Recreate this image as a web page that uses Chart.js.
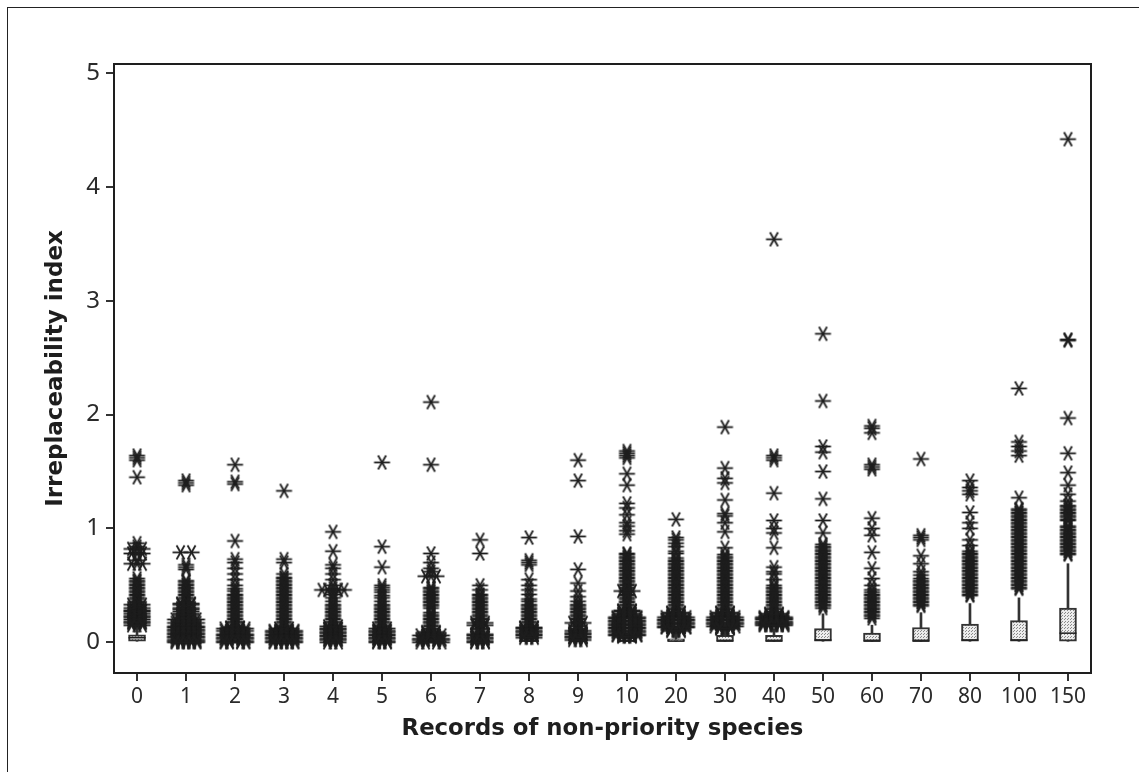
<!DOCTYPE html>
<html>
<head>
<meta charset="utf-8">
<title>Irreplaceability index</title>
<script src="https://cdn.jsdelivr.net/npm/chart.js@4"></script>
<style>
    body { margin: 0; background: #fff; }
    #frame { position: absolute; left: 7px; top: 7px; width: 1132px; height: 765px;
             border-left: 1px solid #222; border-top: 1px solid #222; box-sizing: border-box; }
    #chart { position: absolute; left: 0; top: 0; }
</style>
</head>
<body>
<div id="frame"></div>
<canvas id="chart" width="1139" height="772"></canvas>
<script>
// Categories and axis ticks
const categories = ['0','1','2','3','4','5','6','7','8','9','10','20','30','40','50','60','70','80','100','150'];
const yTicks = [0, 1, 2, 3, 4, 5];

// Box summaries, one entry per category
const whiskerHigh = [.15,.08,.08,.08,.08,.08,.08,.06,.08,.08,.08,.08,.12,.12,.25,.15,.26,.34,.39,.69];
const q3 = [.065,.03,.03,.03,.03,.03,.03,.02,.04,.03,.04,.03,.06,.06,.12,.08,.13,.16,.19,.30];
const median = [.04,.01,.01,.01,.01,.01,.01,.01,.01,.01,.01,.01,.01,.01,.02,.01,.01,.02,.02,.08];
const q1 = [.01,0,0,0,0,0,0,0,0,0,0,0,0,0,0,0,0,0,0,0];

// Outliers. A repeated value means the symbols sit side by side
const out0 = [1.64,1.62,1.6,1.45,.87,.84,.82,.82,.82,.78,.78,.78,.72,.69,.69,.69,.56,.54,.53,.51,.5,.48,.47,.45,.44,.42,.41,.39,.38,.36,.35,
    .33,.33,.33,.32,.3,.3,.3,.28,.28,.27,.27,.27,.25,.25,.25,.23,.23,.22,.22,.22,.2,.2,.2,.18,.18,.18,.17,.17,.15,.15,.15];
const out1 = [1.42,1.4,1.38,.79,.79,.68,.66,.64,.54,.53,.51,.5,.48,.47,.45,.44,.42,.41,.39,.38,.36,.35,
    .34,.34,.33,.33,.33,.3,.3,.3,.29,.29,.27,.27,.27,.25,.25,.25,.24,.24,.22,.22,.22,.2,.2,.2,.2,.19,.19,.19,.17,.17,.17,.17,.16,.16,.16,
    .14,.14,.14,.14,.13,.13,.13,.13,.13,.11,.11,.11,.11,.11,.1,.1,.1,.1,.08,.08,.08,.08,.08,.07,.07,.07,.07,.07,.05,.05,.05,.05,.05,
    .04,.04,.04,.04,.02,.02,.02,.02,.02,.01,.01,.01,.01,.01,0,0,0,0,0];
const out2 = [1.56,1.41,1.39,.89,.73,.7,.65,.6,.55,.5,.47,.45,.42,.41,.39,.38,.36,.35,.33,.32,.3,.29,.27,.26,.24,.23,.21,.2,.18,.17,.15,.14,
    .13,.13,.13,.12,.12,.12,.12,.1,.1,.1,.1,.09,.09,.09,.07,.07,.07,.07,.06,.06,.06,.06,.04,.04,.04,.04,.03,.03,.03,.03,.01,.01,.01,.01,0,0,0,0];
const out3 = [1.33,.73,.7,.6,.57,.56,.54,.53,.51,.5,.48,.47,.45,.44,.42,.41,.39,.38,.36,.35,.33,.32,.3,.29,.27,.26,.24,.23,.21,.2,.18,.17,.15,.14,
    .12,.12,.12,.1,.1,.1,.1,.09,.09,.09,.09,.07,.07,.07,.07,.07,.06,.06,.06,.06,.04,.04,.04,.04,.04,.03,.03,.03,.03,.03,.01,.01,.01,.01,.01,0,0,0,0,0];
const out4 = [.97,.8,.68,.65,.6,.55,.5,.47,.46,.46,.46,.46,.44,.42,.39,.36,.33,.32,.3,.29,.27,.26,.24,.23,.21,.2,.18,.17,.15,
    .14,.14,.12,.12,.12,.11,.11,.11,.09,.09,.09,.08,.08,.08,.06,.06,.06,.05,.05,.05,.03,.03,.03,.02,.02,.02,0,0,0];
const out5 = [1.58,.84,.66,.5,.48,.46,.44,.41,.39,.36,.33,.32,.3,.29,.27,.26,.24,.23,.21,.2,.18,.17,.15,.14,
    .12,.12,.1,.1,.1,.09,.09,.09,.07,.07,.07,.06,.06,.06,.04,.04,.04,.03,.03,.03,.01,.01,.01,0,0,0];
const out6 = [2.11,1.56,.78,.7,.65,.62,.58,.58,.58,.48,.47,.45,.44,.42,.41,.39,.38,.36,.35,.33,.32,.3,.26,.24,.23,.21,.2,.18,.17,.15,.14,.12,.11,
    .09,.09,.08,.08,.08,.06,.06,.06,.06,.05,.05,.05,.03,.03,.03,.03,.02,.02,.02,.02,0,0,0,0];
const out7 = [.9,.78,.5,.46,.42,.41,.39,.38,.36,.35,.33,.32,.3,.29,.27,.26,.24,.23,.21,.2,.18,.17,.17,.17,.15,.15,.15,.14,.12,.11,.09,
    .07,.07,.06,.06,.06,.04,.04,.04,.03,.03,.03,.01,.01,.01,0,0,0];
const out8 = [.92,.72,.7,.68,.55,.5,.46,.42,.38,.36,.33,.32,.3,.29,.27,.26,.24,.23,.21,.2,.18,.17,.15,.14,
    .13,.13,.12,.12,.12,.1,.1,.1,.09,.09,.09,.07,.07,.07,.06,.06,.06,.04,.04,.04];
const out9 = [1.6,1.42,.93,.64,.52,.45,.4,.36,.33,.32,.3,.29,.27,.26,.24,.23,.21,.2,.18,.17,.17,.17,.15,.14,.12,.11,
    .1,.1,.08,.08,.08,.07,.07,.07,.05,.05,.05,.04,.04,.04,.02,.02,.02];
const out10 = [1.68,1.66,1.64,1.62,1.48,1.38,1.22,1.18,1.12,1.05,1.02,.98,.95,.78,.77,.75,.74,.72,.71,.69,.68,.66,.65,.63,.62,.6,.59,.57,.56,.54,.53,.51,.5,.48,.47,
    .45,.45,.45,.44,.42,.41,.39,.38,.36,.35,.33,.32,.3,
    .28,.28,.27,.27,.27,.25,.25,.25,.24,.24,.24,.22,.22,.22,.22,.21,.21,.21,.21,.19,.19,.19,.19,.18,.18,.18,.18,.16,.16,.16,.16,.15,.15,.15,.15,
    .13,.13,.13,.13,.12,.12,.12,.12,.1,.1,.1,.1,.09,.09,.09,.09,.07,.07,.07,.07,.06,.06,.06,.06,.05,.05,.05];
const out20 = [1.08,.92,.9,.87,.84,.8,.78,.74,.72,.71,.69,.68,.66,.65,.63,.62,.6,.59,.57,.56,.54,.53,.51,.5,.48,.47,.45,.44,.42,.41,.39,.38,.36,.35,.33,.32,.3,.29,
    .26,.26,.25,.25,.25,.23,.23,.23,.22,.22,.22,.22,.2,.2,.2,.2,.19,.19,.19,.19,.17,.17,.17,.17,.16,.16,.16,.16,.14,.14,.14,.14,.13,.13,.13,.13,.11,.11,.11,.1,.1,.1];
const out30 = [1.89,1.53,1.44,1.4,1.25,1.13,1.11,1.05,.97,.83,.77,.75,.74,.72,.71,.69,.68,.66,.65,.63,.62,.6,.59,.57,.56,.54,.53,.51,.5,.48,.47,.45,.44,.42,.41,.39,.38,.36,.35,.33,.32,.3,.29,
    .26,.26,.25,.25,.25,.23,.23,.23,.22,.22,.22,.22,.2,.2,.2,.2,.19,.19,.19,.19,.17,.17,.17,.17,.16,.16,.16,.16,.14,.14,.14,.14,.13,.13,.13,.12,.12,.12];
const out40 = [3.54,1.64,1.62,1.6,1.31,1.07,1,.96,.83,.66,.62,.6,.55,.5,.48,.47,.45,.44,.42,.41,.39,.38,.36,.35,.33,.32,.3,.29,.27,
    .25,.25,.24,.24,.24,.22,.22,.22,.22,.21,.21,.21,.21,.2,.2,.2,.2,.2,.18,.18,.18,.18,.18,.17,.17,.17,.17,.17,.16,.16,.16,.16,.16,.15,.15,.15,.15,.15];
const out50 = [2.71,2.12,1.72,1.67,1.5,1.26,1.07,.96,.86,.84,.83,.81,.8,.78,.77,.75,.74,.72,.71,.69,.68,.66,.65,.63,.62,.6,.59,.57,.56,.54,.53,.51,.5,.48,.47,.45,.44,.42,.41,.39,.38,.36,.35,.33,.32,.3];
const out60 = [1.9,1.88,1.84,1.56,1.54,1.52,1.09,1,.94,.79,.65,.56,.5,.46,.44,.42,.41,.39,.38,.36,.35,.33,.32,.3,.29,.27,.26,.24,.23,.21];
const out70 = [1.61,.94,.92,.9,.76,.69,.62,.59,.56,.54,.53,.51,.5,.48,.47,.45,.44,.42,.41,.39,.38,.36,.35,.33,.32];
const out80 = [1.42,1.36,1.33,1.3,1.14,1.05,1,.9,.85,.8,.78,.77,.75,.74,.72,.71,.69,.68,.66,.65,.63,.62,.6,.59,.57,.56,.54,.53,.51,.5,.48,.47,.45,.44,.42,.41];
const out100 = [2.23,1.76,1.72,1.68,1.64,1.27,1.17,1.16,1.14,1.13,1.11,1.1,1.08,1.07,1.05,1.04,1.02,1.01,.99,.98,.96,.95,.93,.92,.9,.89,.87,.86,.84,.83,.81,.8,.78,.77,.75,.74,.72,.71,.69,.68,.66,.65,.63,.62,.6,.59,.57,.56,.54,.53,.51,.5,.48,.47];
const out150 = [4.42,2.66,2.65,1.97,1.66,1.49,1.38,1.3,1.24,1.2,1.19,1.17,1.16,1.14,1.13,1.11,1.1,1.08,1.07,1.02,1.01,.99,.98,.96,.95,.93,.92,.9,.89,.87,.86,.84,.83,.81,.8,.78,.77];

const outliers = [out0,out1,out2,out3,out4,out5,out6,out7,out8,out9,out10,out20,out30,out40,out50,out60,out70,out80,out100,out150];

const ink = '#1e1e1e';
const dodgeStep = 0.112; // in category units, about 5.5px

// Symbols with the same value are laid out side by side around the category centre
function dodge(values, index) {
    const counts = {};
    values.forEach(v => { counts[v] = (counts[v] || 0) + 1; });
    const seen = {};
    return values.map(v => {
        const n = counts[v];
        const i = seen[v] = (seen[v] || 0) + 1;
        const slot = n % 2 ? (i === 1 ? 0 : (i % 2 ? -1 : 1) * Math.floor(i / 2))
                           : (i % 2 ? -1 : 1) * Math.ceil(i / 2);
        return { x: index + slot * dodgeStep, y: v };
    });
}

// Six armed asterisk used for the outliers
function asteriskSymbol() {
    const c = document.createElement('canvas');
    c.width = c.height = 19;
    const g = c.getContext('2d');
    g.strokeStyle = ink;
    g.lineWidth = 1.8;
    g.translate(9.5, 9.5);
    for (let k = 0; k < 3; k++) {
        g.beginPath();
        g.moveTo(-8, 0);
        g.lineTo(8, 0);
        g.stroke();
        g.rotate(Math.PI / 3);
    }
    return c;
}

// Fine grey stipple for the boxes
function stipple() {
    const c = document.createElement('canvas');
    c.width = c.height = 3;
    const g = c.getContext('2d');
    g.fillStyle = '#ececec';
    g.fillRect(0, 0, 3, 3);
    g.fillStyle = '#8a8a8a';
    g.fillRect(0, 0, 1, 1);
    g.fillRect(2, 1, 1, 1);
    return g.createPattern(c, 'repeat');
}

const plotBorder = {
    id: 'plotBorder',
    afterDraw(chart) {
        const { ctx, chartArea: a } = chart;
        ctx.save();
        ctx.strokeStyle = ink;
        ctx.lineWidth = 2;
        ctx.strokeRect(a.left, a.top, a.right - a.left, a.bottom - a.top);
        ctx.restore();
    }
};

const symbol = asteriskSymbol();

new Chart(document.getElementById('chart'), {
    type: 'bar',
    data: {
        datasets: [
            {
                type: 'scatter',
                order: 0,
                data: outliers.flatMap((values, i) => dodge(values, i)),
                pointStyle: symbol,
                pointRadius: 8
            },
            {
                type: 'scatter',
                order: 1,
                data: median.map((v, i) => ({ x: i, y: v })),
                pointStyle: 'line',
                pointRadius: 8.5,
                pointBorderColor: ink,
                pointBorderWidth: 1.5
            },
            {
                order: 2,
                grouped: false,
                data: q3.map((v, i) => ({ x: i, y: [q1[i], v] })),
                backgroundColor: stipple(),
                borderColor: '#333',
                borderWidth: 2,
                borderSkipped: false,
                barThickness: 17
            },
            {
                order: 3,
                grouped: false,
                data: whiskerHigh.map((v, i) => ({ x: i, y: [0, v] })),
                backgroundColor: '#333',
                barThickness: 2
            }
        ]
    },
    options: {
        responsive: false,
        animation: false,
        layout: { padding: { left: 42, top: 64, right: 48, bottom: 29 } },
        plugins: { legend: { display: false }, tooltip: { enabled: false } },
        scales: {
            x: {
                type: 'linear',
                offset: false,
                min: -0.47,
                max: 19.47,
                afterBuildTicks: axis => { axis.ticks = categories.map((_, i) => ({ value: i })); },
                afterFit: axis => { axis.height = 70; },
                border: { display: false },
                grid: { offset: false, drawOnChartArea: false, color: '#333', lineWidth: 2, tickLength: 8 },
                ticks: {
                    autoSkip: false,
                    maxRotation: 0,
                    padding: 3,
                    color: '#2a2a2a',
                    font: { family: '"Noto Sans"', size: 21 },
                    callback: value => categories[value]
                },
                title: {
                    display: true,
                    text: 'Records of non-priority species',
                    color: ink,
                    padding: { top: 0, bottom: 0 },
                    font: { family: '"DejaVu Sans"', size: 22.8, weight: 'bold' }
                }
            },
            y: {
                min: -0.27,
                max: 5.08,
                afterBuildTicks: axis => { axis.ticks = yTicks.map(v => ({ value: v })); },
                afterFit: axis => { axis.width = 72; },
                border: { display: false },
                grid: { drawOnChartArea: false, color: '#333', lineWidth: 2, tickLength: 8 },
                ticks: {
                    padding: 6,
                    color: '#2a2a2a',
                    font: { family: '"Noto Sans"', size: 24 }
                },
                title: {
                    display: true,
                    text: 'Irreplaceability index',
                    color: ink,
                    padding: { top: 0, bottom: 0 },
                    font: { family: '"DejaVu Sans"', size: 23, weight: 'bold' }
                }
            }
        }
    },
    plugins: [plotBorder]
});
</script>
</body>
</html>
